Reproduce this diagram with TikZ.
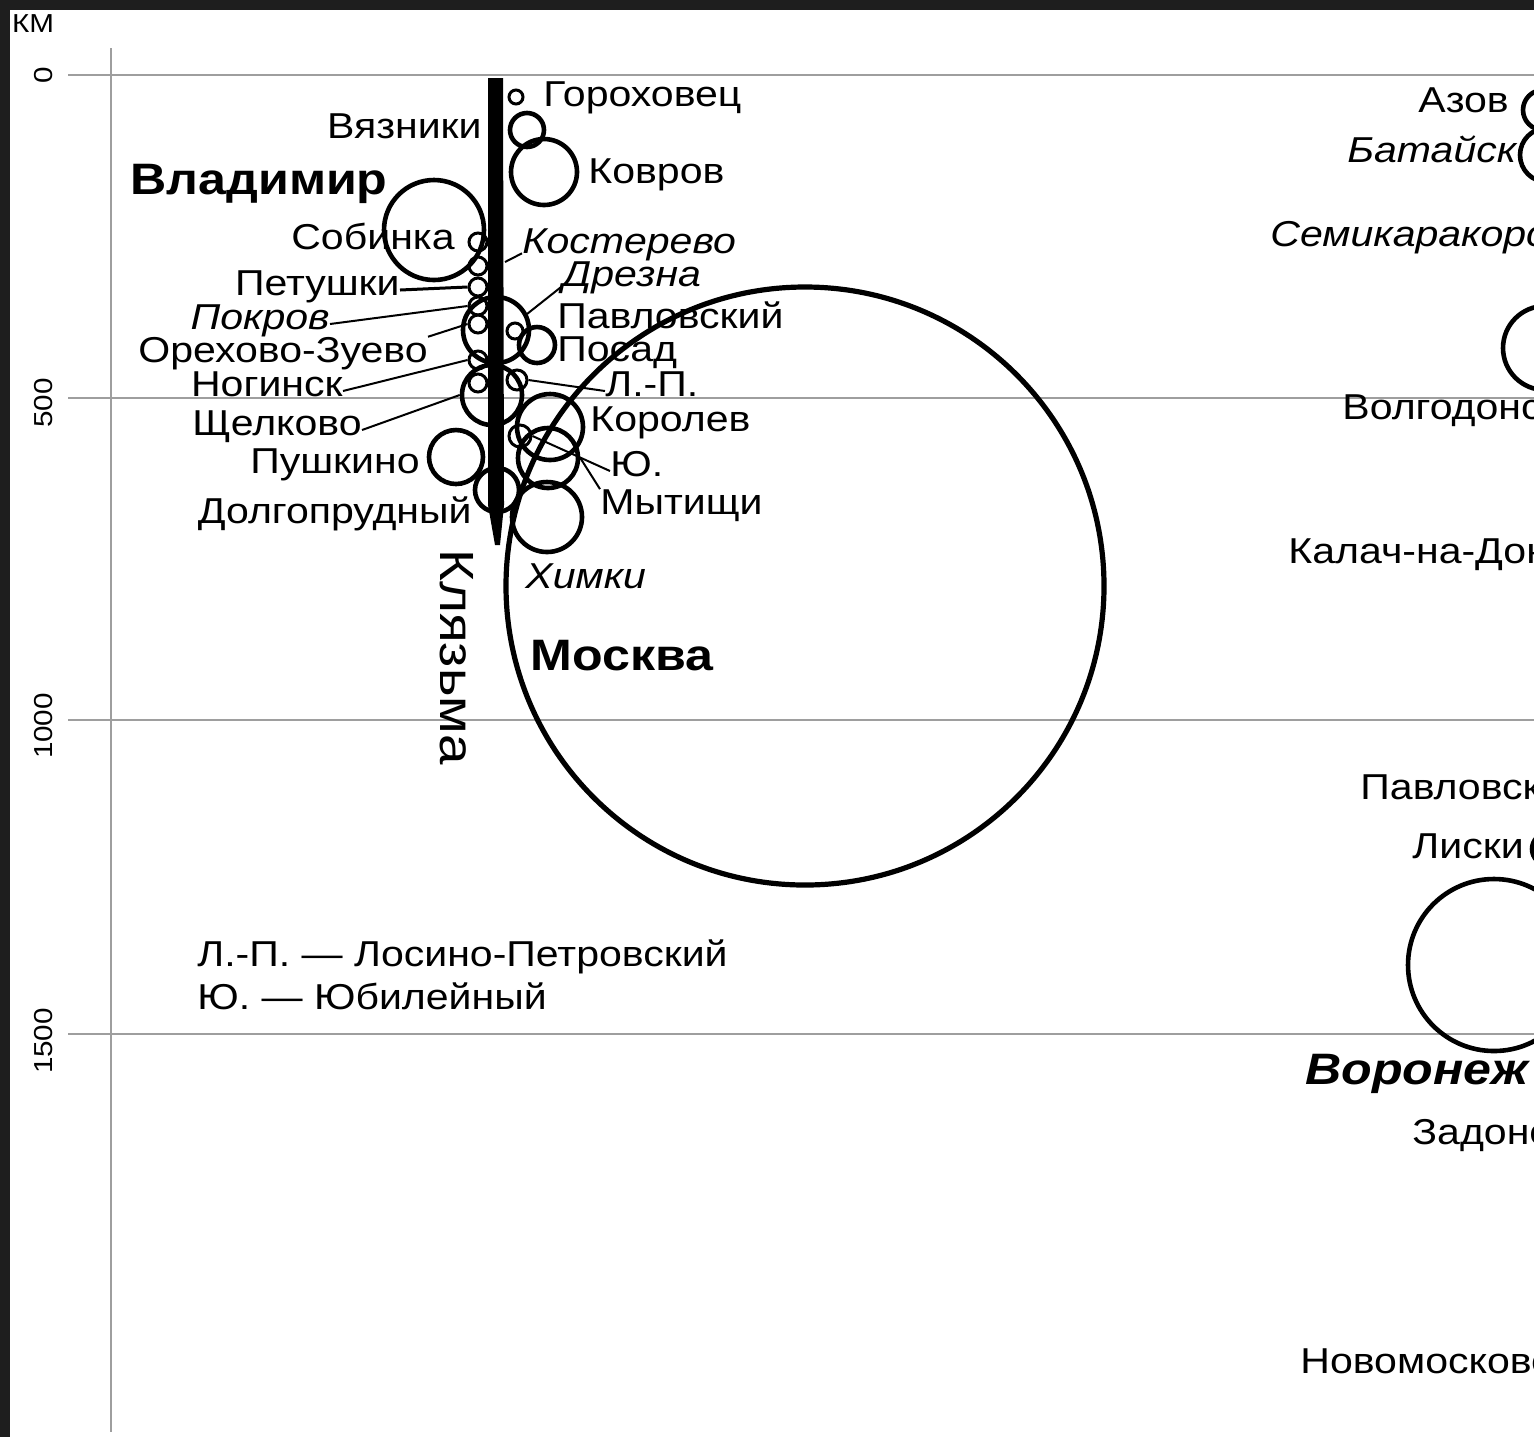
\documentclass[tikz,border=0pt]{standalone}
\usepackage{fontspec}
\setmainfont[FakeStretch=1.14]{Liberation Sans}
\usepackage{tikz}
\usetikzlibrary{positioning}
\definecolor{framegray}{HTML}{1E1E1E}
\definecolor{gridgray}{HTML}{9E9E9E}

\begin{document}
\begin{tikzpicture}[
  x=0.5pt, y=-0.5pt,
  town/.style={circle, draw=black, line width=2.3pt, inner sep=0pt, minimum size=#1},
  smalltown/.style={circle, draw=black, line width=1.5pt, inner sep=0pt, minimum size=#1},
  lbl/.style={inner sep=0pt, font=\fontsize{18}{20}\selectfont},
  lblit/.style={inner sep=0pt, font=\fontsize{18}{20}\selectfont\itshape},
  lblbf/.style={inner sep=0pt, font=\fontsize{22}{24}\selectfont\bfseries},
  tick/.style={inner sep=0pt, rotate=90, font=\fontsize{13}{14}\selectfont},
  leader/.style={line width=1pt},
  gridline/.style={gridgray, line width=1.2pt}
]
  \clip (0,0) rectangle (1534,1437);
  \fill[white] (0,0) rectangle (1534,1437);

  % Distance grid
  \draw[gridline] (68,75) -- (1534,75);
  \draw[gridline] (68,398) -- (1534,398);
  \draw[gridline] (68,720) -- (1534,720);
  \draw[gridline] (68,1034) -- (1534,1034);
  \draw[gridline] (111,48) -- (111,1432);

  \node[inner sep=0pt, font=\fontsize{13}{14}\selectfont] (km) at (33,24) {КМ};
  \node[tick] (t0) at (44,75) {0};
  \node[tick] (t500) at (44,403) {500};
  \node[tick] (t1000) at (44,726) {1000};
  \node[tick] (t1500) at (44,1041) {1500};

  % Klyazma river
  \fill (488,78) -- (503,78) -- (504,505) -- (500,545) -- (495,545) -- (488,505) -- cycle;
  \coordinate (kostR) at (505,262);
  \coordinate (drezR) at (527,314);
  \node[lbl, rotate=-90, font=\fontsize{24}{26}\selectfont] (klyazma) at (457,657) {Клязьма};

  % Towns along the river
  \node[smalltown=7pt] (cgor) at (516,97) {};
  \node[town=17pt] (cvyaz) at (527,130) {};
  \node[town=33pt] (ckovrov) at (544,172) {};
  \node[town=50pt] (cvlad) at (434,230) {};
  \node[smalltown=9pt] (csob) at (478,242) {};
  \node[smalltown=9pt] (cx1) at (478,266) {};
  \node[smalltown=9pt] (cpet) at (478,287) {};
  \node[smalltown=9pt] (cpok) at (478,306) {};
  \node[smalltown=9pt] (coz) at (478,324) {};
  \node[smalltown=9pt] (cnog) at (478,360) {};
  \node[smalltown=9pt] (cx2) at (478,383) {};
  \node[town=33pt] (cbig1) at (496,330) {};
  \node[town=30pt] (cshch) at (492,395) {};
  \node[smalltown=8pt] (cx3) at (515,331) {};
  \node[town=18pt] (cposad) at (537,345) {};
  \node[smalltown=10pt] (clp) at (517,380) {};
  \node[town=33pt] (ckorolev) at (550,427) {};
  \node[smalltown=11pt] (cyub) at (520,436) {};
  \node[town=30pt] (cmyt) at (548,458) {};
  \node[town=27pt] (cpush) at (456,457) {};
  \node[town=22pt] (cdolg) at (497,490) {};
  \node[town=35pt] (ckhimki) at (547,517) {};
  \node[town=299pt, line width=2.6pt] (cmoscow) at (805,586) {};

  % Labels, left side
  \node[lbl, anchor=mid east] (tvyaz) at (482,133) {Вязники};
  \node[lblbf, anchor=mid east] (tvlad) at (388,189) {Владимир};
  \node[lbl, anchor=mid east] (tsob) at (455,244) {Собинка};
  \node[lbl, anchor=mid east] (tpet) at (400,290) {Петушки};
  \node[lblit, anchor=mid east] (tpok) at (330,324) {Покров};
  \node[lbl, anchor=mid east] (toz) at (428,357) {Орехово-Зуево};
  \node[lbl, anchor=mid east] (tnog) at (343,391) {Ногинск};
  \node[lbl, anchor=mid east] (tshch) at (362,430) {Щелково};
  \node[lbl, anchor=mid east] (tpush) at (420,468) {Пушкино};
  \node[lbl, anchor=mid east] (tdolg) at (472,518) {Долгопрудный};

  % Labels, right side
  \node[lbl, anchor=mid west] (tgor) at (543,101) {Гороховец};
  \node[lbl, anchor=mid west] (tkovrov) at (588,178) {Ковров};
  \node[lblit, anchor=mid west] (tkost) at (522,248) {Костерево};
  \node[lblit, anchor=mid west] (tdrez) at (562,281) {Дрезна};
  \node[lbl, anchor=mid west] (tpavl) at (557,323) {Павловский};
  \node[lbl, anchor=mid west] (tposad) at (557,356) {Посад};
  \node[lbl, anchor=mid west] (tlp) at (605,391) {Л.-П.};
  \node[lbl, anchor=mid west] (tkorolev) at (590,426) {Королев};
  \node[lbl, anchor=mid west] (tyub) at (610,471) {Ю.};
  \node[lbl, anchor=mid west] (tmyt) at (600,509) {Мытищи};
  \node[lblit, anchor=mid west] (tkhimki) at (525,583) {Химки};
  \node[lblbf, anchor=mid west] (tmoscow) at (530,665) {Москва};

  % Leader lines
  \draw[leader, line width=1.5pt] (tpet.mid east) -- (cpet.west);
  \draw[leader] (tpok.mid east) -- (cpok.west);
  \draw[leader] (toz.north east) -- (coz.west);
  \draw[leader] (tnog.mid east) -- (cnog.west);
  \draw[leader] (tshch.mid east) -- (cshch.west);
  \draw[leader] (kostR) -- (tkost.base west);
  \draw[leader] (drezR) -- (tdrez.base west);
  \draw[leader] (clp.east) -- (tlp.mid west);
  \draw[leader] (cyub.east) -- (tyub.mid west);
  \draw[leader] (cmyt.east) -- (tmyt.north west);

  % Legend
  \node[lbl, anchor=mid west] (legLP) at (197,961) {Л.-П. — Лосино-Петровский};
  \node[lbl, anchor=mid west] (legYu) at (197,1004) {Ю. — Юбилейный};

  % Southern line, cut at the right edge
  \node[town=20pt] (cazov) at (1543,110) {};
  \node[town=27pt] (cbat) at (1547,155) {};
  \node[town=42pt] (cvolg) at (1545,348) {};
  \node[town=16pt] (cliski) at (1548,849) {};
  \node[town=86pt] (cvoronezh) at (1494,965) {};
  \node[lbl, anchor=mid west] (tazov) at (1418,107) {Азов};
  \node[lblit, anchor=mid west] (tbat) at (1347,157) {Батайск};
  \node[lblit, anchor=mid west] (tsemi) at (1270,241) {Семикаракорск};
  \node[lbl, anchor=mid west] (tvolg) at (1342,414) {Волгодонск};
  \node[lbl, anchor=mid west] (tkalach) at (1288,558) {Калач-на-Дону};
  \node[lbl, anchor=mid west] (tpavlovsk) at (1360,794) {Павловск};
  \node[lbl, anchor=mid west] (tliski) at (1412,853) {Лиски};
  \node[lblbf, anchor=mid west, font=\fontsize{22}{24}\selectfont\bfseries\itshape] (tvoronezh) at (1305,1079) {Воронеж};
  \node[lbl, anchor=mid west] (tzadonsk) at (1412,1139) {Задонск};
  \node[lbl, anchor=mid west] (tnovom) at (1300,1368) {Новомосковск};

  % Dark frame
  \fill[framegray] (0,0) rectangle (1534,10);
  \fill[framegray] (0,0) rectangle (10,1437);
\end{tikzpicture}
\end{document}
